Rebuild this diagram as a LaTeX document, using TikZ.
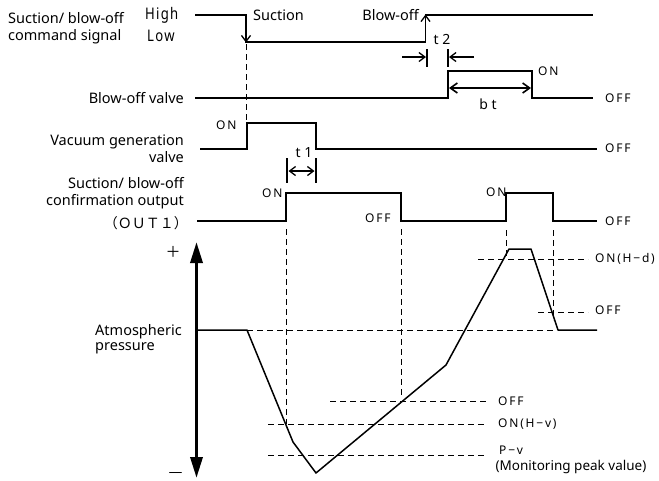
\documentclass[tikz,border=0pt]{standalone}
\usepackage{fontspec}
\setmainfont{Noto Sans}
\newfontfamily\jp{Noto Sans CJK JP}
\newfontfamily\hl{Noto Sans}[FakeStretch=0.82,LetterSpace=8]
\newfontfamily\stf{Noto Sans}[LetterSpace=15]
\newfontfamily\dashf{Noto Sans}[FakeStretch=2.3]
\usetikzlibrary{arrows.meta}
\begin{document}
\begin{tikzpicture}[x=1pt,y=-1pt,
  lab/.style={font=\fontsize{14.5}{17}\selectfont, inner sep=0},
  st/.style={font=\stf\fontsize{12}{13}\selectfont, inner sep=0, anchor=west},
  tl/.style={font=\fontsize{14}{15}\selectfont, inner sep=0},
  sig/.style={line width=1.5pt, line join=miter},
  dsh/.style={line width=0.9pt, dash pattern=on 6pt off 4pt},
  edgetip/.style={line width=1.5pt, -{Straight Barb[length=6pt,width=9pt,line width=1.3pt]}},
  tmark/.style={line width=2.6pt},
  dimarrow/.style={line width=1.4pt, -{Straight Barb[length=6pt,width=9pt,line width=1.3pt]}},
]
\useasboundingbox (0,0) rectangle (659,480);

% ---- left labels
\node[lab, anchor=west, align=left] (lcmd) at (8,28) {Suction/ blow-off\\command signal};
\node[font=\hl\fontsize{16}{17}\selectfont, inner sep=0, anchor=west] (lhigh) at (145,15) {High};
\node[font=\hl\fontsize{16}{17}\selectfont, inner sep=0, anchor=west] (llow) at (147,36) {Low};
\node[lab, anchor=east] (lbv) at (184,98) {Blow-off valve};
\node[lab, anchor=east, align=right] (lvac) at (184,149) {Vacuum generation\\valve};
\node[lab, anchor=east, align=right] (lconf) at (184,193) {Suction/ blow-off\\confirmation output};
\node[font=\jp\fontsize{14}{15}\selectfont, inner sep=0, anchor=east] (lout) at (188,223) {（ＯＵＴ１）};
\node[lab, anchor=west, align=left, font=\fontsize{14.5}{15.5}\selectfont] (latm) at (95,339) {Atmospheric\\pressure};
\node[font=\jp\fontsize{15}{17}\selectfont, inner sep=0] (lplus) at (173,252) {＋};
\node[font=\dashf\bfseries\fontsize{13}{14}\selectfont, inner sep=0, anchor=base] (lminus) at (175.5,476) {–};

% ---- command signal
\draw[sig] (195,15) -- (246,15) -- (246,42) -- (425.5,42) -- (425.5,15) -- (593,15);
\draw[edgetip] (246,28) -- (246,42.5);
\draw[edgetip] (425.5,29) -- (425.5,14.5);
\node[lab, anchor=west] (lsuc) at (253,15) {Suction};
\node[lab, anchor=east] (lblo) at (419,15) {Blow-off};
\node[tl] (lt2) at (442,39) {t 2};
\draw[tmark] (427,49) -- (427,67);
\draw[tmark] (448,49) -- (448,67);
\draw[dimarrow] (402,57) -- (426,57);
\draw[dimarrow] (474,57) -- (449,57);

% ---- blow-off valve
\draw[sig] (195,98) -- (448,98) -- (448,71) -- (532,71) -- (532,98) -- (593,98);
\draw[line width=2.6pt, {Straight Barb[length=7pt,width=10pt,line width=1.6pt]}-{Straight Barb[length=7pt,width=10pt,line width=1.6pt]}] (449,88) -- (531,88);
\node[tl] (lbt) at (488,104) {b t};
\node[st] (bvon) at (538,71) {ON};
\node[st] (bvoff) at (605,98) {OFF};

% ---- vacuum generation valve
\draw[dsh] (246,44) -- (246,122);
\draw[sig] (200,149) -- (247,149) -- (247,123) -- (316,123) -- (316,149) -- (597,149);
\node[st] (vvon) at (216,125) {ON};
\node[st] (vvoff) at (605,148) {OFF};
\node[tl] (lt1) at (304,153) {t 1};
\draw[tmark] (287,158) -- (287,183);
\draw[tmark] (316,158) -- (316,183);
\draw[dimarrow, {Straight Barb[length=6pt,width=9pt,line width=1.3pt]}-{Straight Barb[length=6pt,width=9pt,line width=1.3pt]}] (288.5,171) -- (314.5,171);

% ---- OUT1
\draw[sig] (197,221) -- (286,221) -- (286,193) -- (401,193) -- (401,221) -- (506,221) -- (506,193) -- (553,193) -- (553,221) -- (597,221);
\node[st] (o1on) at (262,193) {ON};
\node[st] (o1off) at (365,218) {OFF};
\node[st] (o2on) at (486,192) {ON};
\node[st] (o2off) at (605,221) {OFF};

% ---- vertical dashed guides
\draw[dsh] (286,229) -- (286,424);
\draw[dsh] (401,229) -- (401,398);
\draw[dsh] (506,230) -- (506,256);
\draw[dsh] (553,230) -- (553,320);

% ---- pressure axis
\draw[line width=3.4pt, {Triangle[length=21pt,width=12pt]}-{Triangle[length=21pt,width=12pt]}] (196.5,242) -- (196.5,478);

% ---- threshold lines
\draw[dsh] (247,330) -- (553,330);
\draw[dsh] (478,259) -- (588,259);
\draw[dsh] (538,312) -- (588,312);
\draw[dsh] (330,401) -- (486,401);
\draw[dsh] (268,424) -- (486,424);
\draw[dsh] (268,455) -- (486,455);
\node[st] (lhd) at (595,259) {ON(H−d)};
\node[st] (lpoff) at (595,310) {OFF};
\node[st] (lvoff) at (498,401) {OFF};
\node[st] (lhv) at (498,424) {ON(H−v)};
\node[st] (lpv) at (499,450) {P−v};
\node[font=\fontsize{13.5}{15}\selectfont, inner sep=0] (lmon) at (571,467) {(Monitoring peak value)};

% ---- pressure curve
\draw[sig, line join=round] (197,330) -- (247,330) -- (293,442) -- (316,473) -- (446,365) -- (509,249) -- (531,249) -- (558,330) -- (597,330);
\end{tikzpicture}
\end{document}
